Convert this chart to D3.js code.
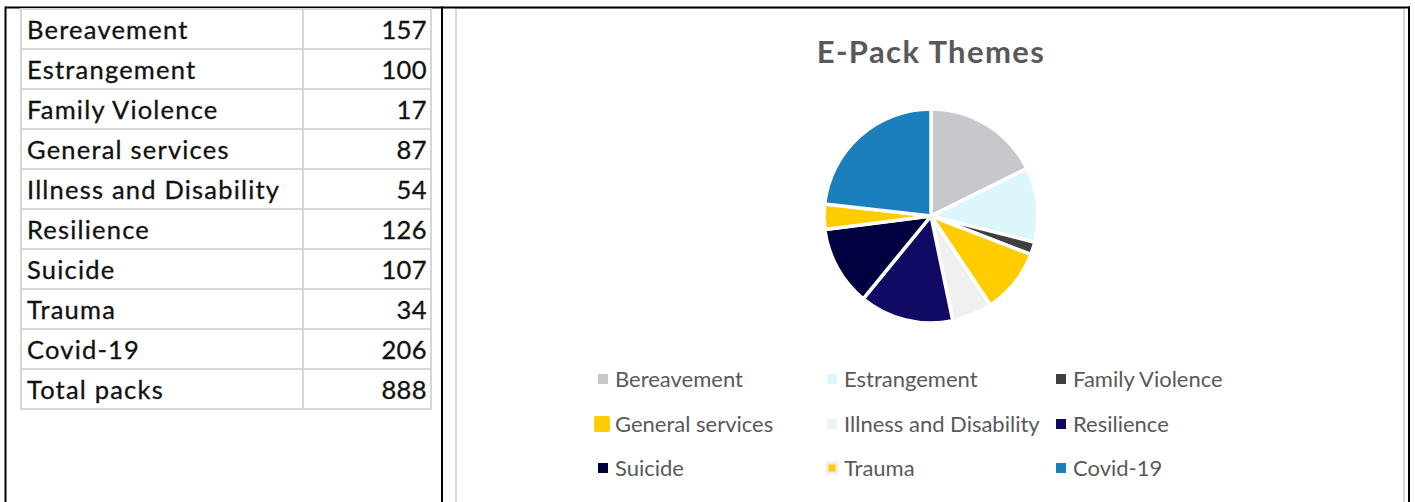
<!DOCTYPE html>
<html>
<head>
<meta charset="utf-8">
<script src="https://cdn.jsdelivr.net/npm/d3@7"></script>
<style>
  body { margin: 0; background: #fff; }
  svg { display: block; }
</style>
</head>
<body>
<svg width="1415" height="502"></svg>
<script>
// data
var themes = ["Bereavement", "Estrangement", "Family Violence", "General services",
  "Illness and Disability", "Resilience", "Suicide", "Trauma", "Covid-19"];
var packs = [157, 100, 17, 87, 54, 126, 107, 34, 206];
var totalLabel = "Total packs";
var totalValue = 888;
var colors = ["#c8c8cc", "#dcf6fd", "#404040", "#ffcc00", "#f0f0f0",
  "#110a64", "#000040", "#ffcc00", "#1a7fba"];
var title = "E-Pack Themes";

var svg = d3.select("svg"),
    width = +svg.attr("width"),
    height = +svg.attr("height");

// outer frame (page table borders)
var frame = svg.append("g");
frame.append("rect").attr("x", 456).attr("y", 8).attr("width", 948).attr("height", 520)
  .attr("fill", "none").attr("stroke", "#d9d9d9").attr("stroke-width", 2);
frame.append("line").attr("x1", 5).attr("x2", 1410).attr("y1", 7.5).attr("y2", 7.5)
  .attr("stroke", "#000").attr("stroke-width", 2);
[5.5, 442, 1409].forEach(function(x) {
  frame.append("line").attr("x1", x).attr("x2", x).attr("y1", 6.5).attr("y2", height)
    .attr("stroke", "#000").attr("stroke-width", 2);
});

//-----TABLE------------
var rows = themes.map(function(t, i) { return {label: t, value: packs[i]}; })
  .concat([{label: totalLabel, value: totalValue}]);

var rowY = d3.scaleBand()
  .domain(d3.range(rows.length))
  .range([9, 409]);

var font = "Lato, 'Open Sans', sans-serif";

var table = svg.append("g").attr("class", "table");
var tr = table.selectAll("g.row").data(rows).enter().append("g")
  .attr("class", "row")
  .attr("transform", function(d, i) { return "translate(0," + rowY(i) + ")"; });

tr.append("rect").attr("x", 21).attr("width", 282).attr("height", rowY.bandwidth())
  .attr("fill", "#fff").attr("stroke", "#d6d6d6").attr("stroke-width", 2);
tr.append("rect").attr("x", 303).attr("width", 128).attr("height", rowY.bandwidth())
  .attr("fill", "#fff").attr("stroke", "#d6d6d6").attr("stroke-width", 2);
tr.append("text").attr("x", 27).attr("y", 30)
  .style("font-family", font).style("font-size", "25.5px")
  .style("letter-spacing", "1.2px")
  .attr("fill", "#111").attr("stroke", "#111").attr("stroke-width", 0.3)
  .text(function(d) { return d.label; });
tr.append("text").attr("x", 427).attr("y", 30).attr("text-anchor", "end")
  .style("font-family", font).style("font-size", "25.5px")
  .style("letter-spacing", "0.4px")
  .attr("fill", "#111").attr("stroke", "#111").attr("stroke-width", 0.3)
  .text(function(d) { return d.value; });

//-----PIE------------
var cx = 931, cy = 216, radius = 107;

svg.append("text")
  .attr("x", cx).attr("y", 63).attr("text-anchor", "middle")
  .style("font-family", font).style("font-size", "31px")
  .style("letter-spacing", "1.4px")
  .style("font-weight", "bold").attr("fill", "#595959")
  .text(title);

var pie = d3.pie().sort(null).value(function(d) { return d; });
var arc = d3.arc().innerRadius(0).outerRadius(radius);

var pieG = svg.append("g").attr("transform", "translate(" + cx + "," + cy + ")");
pieG.selectAll("path").data(pie(packs)).enter().append("path")
  .attr("d", arc)
  .attr("fill", function(d, i) { return colors[i]; })
  .attr("stroke", "#fff")
  .attr("stroke-width", 3.5)
  .attr("stroke-linejoin", "round");

//-----LEGEND------------
var legX = d3.scaleOrdinal().domain([0, 1, 2]).range([598, 827, 1056]);
var legY = d3.scaleOrdinal().domain([0, 1, 2]).range([379, 424, 468]);

var leg = svg.append("g").attr("class", "legend")
  .selectAll("g").data(themes).enter().append("g")
  .attr("transform", function(d, i) {
    return "translate(" + legX(i % 3) + "," + legY(Math.floor(i / 3)) + ")";
  });

leg.append("rect")
  .attr("x", function(d, i) { return i === 3 ? -4 : 0; })
  .attr("y", function(d, i) { return i === 3 ? -8 : -5; })
  .attr("width", function(d, i) { return i === 3 ? 16 : 10; })
  .attr("height", function(d, i) { return i === 3 ? 16 : 10; })
  .attr("rx", function(d, i) { return i === 3 ? 2 : 0; })
  .attr("fill", function(d, i) { return colors[i]; })
  .attr("stroke", function(d, i) { return i === 7 ? "#eeeeee" : "none"; })
  .attr("stroke-width", 3);

leg.append("text")
  .attr("x", 17).attr("y", 7.5)
  .style("font-family", font).style("font-size", "22px")
  .attr("fill", "#595959")
  .text(function(d) { return d; });
</script>
</body>
</html>
